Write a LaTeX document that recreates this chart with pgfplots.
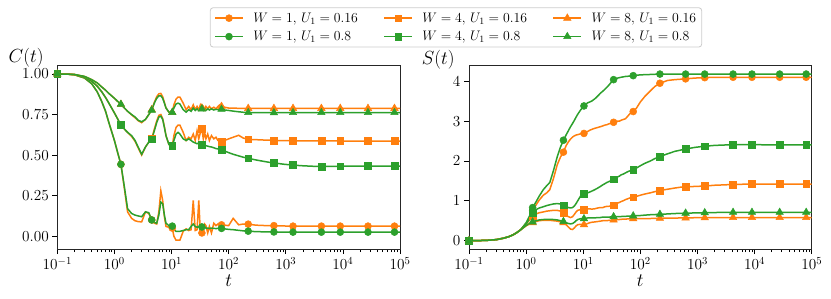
\RequirePackage{fix-cm}
\documentclass[border=0pt]{standalone}
\usepackage{pgfplots}
\usepackage{pgfplotstable}
\pgfplotsset{compat=1.18}
\definecolor{tor}{HTML}{FF7F0E}
\definecolor{tgr}{HTML}{2CA02C}

\pgfplotstableread{
t c1o c1g c4o c4g c8o c8g
0.1 1.0 1.0 1.0 1.0 1.0 1.0
0.15 0.999 0.999 0.999 0.999 0.999 0.999
0.2 0.995 0.995 0.996 0.996 0.997 0.997
0.3 0.975 0.975 0.98 0.98 0.985 0.985
0.4 0.94 0.94 0.955 0.955 0.965 0.965
0.5 0.89 0.89 0.925 0.925 0.945 0.945
0.6 0.83 0.83 0.89 0.89 0.92 0.92
0.7 0.77 0.77 0.855 0.855 0.90 0.90
0.8 0.70 0.70 0.82 0.82 0.88 0.88
1.0 0.59 0.59 0.76 0.76 0.85 0.85
1.15 0.51 0.51 0.72 0.72 0.83 0.83
1.3 0.443 0.443 0.685 0.685 0.813 0.813
1.5 0.29 0.30 0.66 0.66 0.79 0.79
1.7 0.15 0.17 0.64 0.64 0.77 0.77
2.0 0.11 0.14 0.615 0.62 0.748 0.75
2.3 0.095 0.13 0.585 0.59 0.73 0.735
2.6 0.09 0.125 0.545 0.55 0.712 0.715
3.0 0.088 0.12 0.50 0.505 0.70 0.705
3.5 0.15 0.15 0.55 0.55 0.72 0.72
4.0 0.14 0.145 0.58 0.58 0.75 0.75
4.5 0.10 0.10 0.60 0.597 0.78 0.777
5.0 0.08 0.085 0.66 0.65 0.825 0.82
5.5 0.075 0.08 0.71 0.70 0.86 0.85
6.0 0.15 0.13 0.745 0.735 0.878 0.865
6.5 0.28 0.21 0.75 0.74 0.88 0.865
7.0 0.22 0.20 0.725 0.72 0.86 0.85
7.5 0.12 0.13 0.675 0.67 0.825 0.82
8.0 0.06 0.08 0.62 0.62 0.79 0.79
9.0 0.055 0.065 0.565 0.565 0.765 0.765
10.3 0.05 0.062 0.556 0.556 0.763 0.763
11 0.0 0.04 0.62 0.59 0.81 0.79
12 -0.025 0.03 0.67 0.63 0.845 0.815
13 -0.025 0.03 0.685 0.64 0.858 0.82
14 -0.025 0.03 0.685 0.63 0.858 0.815
16 0.03 0.035 0.64 0.60 0.82 0.78
18 0.045 0.04 0.59 0.59 0.78 0.765
20 0.035 0.04 0.61 0.60 0.80 0.78
22 0.04 0.06 0.60 0.59 0.78 0.77
24 0.22 0.075 0.63 0.58 0.81 0.79
26 0.035 0.06 0.59 0.575 0.78 0.775
28 0.04 0.055 0.65 0.57 0.80 0.785
30 0.22 0.06 0.60 0.575 0.78 0.775
32 0.02 0.06 0.64 0.57 0.81 0.785
34 0.02 0.057 0.66 0.566 0.79 0.785
36 0.05 0.05 0.60 0.565 0.80 0.775
38 0.075 0.055 0.64 0.562 0.78 0.785
40 0.065 0.05 0.60 0.558 0.80 0.775
43 0.02 0.05 0.63 0.555 0.785 0.785
46 0.06 0.048 0.59 0.552 0.80 0.778
50 0.02 0.05 0.62 0.55 0.785 0.785
55 0.08 0.048 0.60 0.545 0.795 0.778
60 0.065 0.047 0.61 0.54 0.785 0.782
65 0.075 0.048 0.59 0.538 0.80 0.78
70 0.07 0.048 0.585 0.536 0.81 0.782
75 0.07 0.048 0.582 0.535 0.80 0.782
85 0.068 0.045 0.59 0.525 0.795 0.778
100 0.065 0.042 0.60 0.515 0.79 0.775
120 0.11 0.04 0.61 0.505 0.79 0.771
150 0.07 0.036 0.622 0.495 0.788 0.767
180 0.075 0.033 0.605 0.487 0.788 0.764
220 0.074 0.031 0.597 0.48 0.788 0.762
300 0.068 0.028 0.595 0.47 0.788 0.761
400 0.066 0.027 0.593 0.462 0.788 0.761
500 0.065 0.026 0.592 0.456 0.788 0.761
620 0.065 0.026 0.59 0.452 0.788 0.761
900 0.063 0.025 0.589 0.444 0.788 0.761
1340 0.062 0.025 0.588 0.438 0.788 0.762
2000 0.062 0.025 0.588 0.434 0.788 0.762
3000 0.062 0.025 0.587 0.431 0.788 0.762
4200 0.062 0.025 0.587 0.43 0.788 0.762
9000 0.062 0.025 0.587 0.431 0.788 0.762
15000 0.062 0.025 0.586 0.432 0.788 0.762
27500 0.062 0.025 0.586 0.432 0.788 0.762
50000 0.062 0.025 0.586 0.432 0.788 0.762
80000 0.062 0.025 0.586 0.432 0.788 0.762
100000 0.062 0.025 0.586 0.432 0.788 0.762
}\Ctab

\pgfplotstableread{
t s1o s1g s4o s4g s8o s8g
0.1 0 0 0 0 0 0
0.15 0.002 0.002 0.002 0.002 0.002 0.002
0.2 0.006 0.006 0.006 0.006 0.006 0.006
0.3 0.025 0.025 0.025 0.025 0.025 0.025
0.4 0.06 0.06 0.06 0.06 0.06 0.06
0.5 0.10 0.10 0.10 0.10 0.10 0.10
0.6 0.15 0.15 0.15 0.15 0.15 0.15
0.7 0.21 0.21 0.21 0.21 0.21 0.21
0.8 0.27 0.27 0.27 0.27 0.27 0.27
1.0 0.43 0.45 0.41 0.42 0.37 0.38
1.15 0.58 0.62 0.52 0.55 0.42 0.43
1.3 0.76 0.83 0.62 0.70 0.45 0.47
1.5 0.90 0.98 0.67 0.78 0.48 0.50
1.7 1.02 1.12 0.70 0.82 0.50 0.52
2.0 1.14 1.28 0.72 0.85 0.51 0.53
2.3 1.20 1.38 0.74 0.88 0.51 0.535
2.6 1.28 1.46 0.75 0.90 0.51 0.535
3.0 1.55 1.75 0.76 0.92 0.50 0.53
3.5 1.90 2.10 0.76 0.93 0.49 0.52
4.0 2.10 2.35 0.74 0.92 0.47 0.50
4.5 2.22 2.52 0.70 0.89 0.45 0.48
5.0 2.38 2.65 0.64 0.86 0.40 0.45
5.5 2.48 2.76 0.60 0.83 0.34 0.43
6.0 2.55 2.86 0.58 0.82 0.29 0.42
6.5 2.60 2.94 0.60 0.83 0.28 0.43
7.0 2.63 3.02 0.66 0.87 0.32 0.46
7.5 2.65 3.10 0.72 0.93 0.37 0.50
8.0 2.66 3.17 0.76 1.00 0.40 0.53
9.0 2.68 3.28 0.78 1.12 0.41 0.55
10.3 2.69 3.38 0.78 1.18 0.40 0.55
11 2.71 3.42 0.79 1.19 0.41 0.56
12 2.74 3.46 0.80 1.20 0.43 0.57
13 2.77 3.48 0.80 1.22 0.45 0.57
14 2.79 3.50 0.79 1.24 0.46 0.57
16 2.82 3.56 0.80 1.28 0.47 0.57
18 2.84 3.63 0.82 1.32 0.48 0.58
20 2.86 3.70 0.83 1.36 0.49 0.58
22 2.88 3.75 0.83 1.40 0.50 0.59
24 2.90 3.80 0.85 1.43 0.50 0.59
26 2.91 3.85 0.86 1.46 0.50 0.59
28 2.93 3.90 0.86 1.48 0.51 0.59
30 2.94 3.95 0.87 1.50 0.51 0.595
32 2.96 4.00 0.88 1.52 0.51 0.595
34 2.97 4.04 0.89 1.54 0.52 0.60
36 2.98 4.06 0.90 1.56 0.52 0.60
38 2.99 4.07 0.92 1.58 0.52 0.60
40 3.00 4.08 0.94 1.60 0.53 0.60
43 3.00 4.09 0.96 1.62 0.53 0.605
46 3.02 4.10 0.98 1.65 0.535 0.605
50 3.04 4.11 1.00 1.67 0.54 0.61
55 3.06 4.12 1.03 1.70 0.54 0.61
60 3.12 4.125 1.05 1.73 0.545 0.615
65 3.18 4.13 1.07 1.75 0.545 0.615
70 3.22 4.135 1.08 1.76 0.55 0.62
75 3.24 4.14 1.09 1.77 0.55 0.62
85 3.32 4.15 1.11 1.82 0.55 0.625
100 3.48 4.16 1.14 1.88 0.55 0.63
120 3.62 4.165 1.17 1.94 0.555 0.64
150 3.76 4.17 1.20 2.00 0.555 0.65
180 3.87 4.175 1.23 2.06 0.56 0.655
220 3.95 4.18 1.26 2.11 0.56 0.66
300 4.02 4.18 1.29 2.18 0.565 0.67
400 4.04 4.18 1.32 2.24 0.565 0.68
500 4.05 4.18 1.34 2.27 0.57 0.685
620 4.06 4.18 1.35 2.30 0.57 0.69
900 4.08 4.18 1.36 2.34 0.575 0.695
1340 4.09 4.18 1.37 2.37 0.575 0.70
2000 4.10 4.18 1.39 2.39 0.58 0.705
3000 4.10 4.18 1.40 2.40 0.58 0.71
4200 4.10 4.18 1.41 2.41 0.58 0.71
9000 4.10 4.18 1.42 2.41 0.58 0.71
15000 4.10 4.18 1.42 2.405 0.58 0.71
27500 4.10 4.18 1.42 2.40 0.58 0.71
50000 4.10 4.18 1.42 2.40 0.58 0.71
80000 4.10 4.18 1.42 2.40 0.58 0.71
100000 4.10 4.18 1.42 2.40 0.58 0.71
}\Stab

\begin{document}
\begin{tikzpicture}
\useasboundingbox (0pt,0pt) rectangle (831pt,298pt);
\begin{axis}[xmode=log, scale only axis, width=342.7pt, height=183.3pt,
  at={(57.3pt,49pt)}, anchor=south west,
  xmin=0.1, xmax=1e5,
  xtick={0.1,1,10,100,1000,10000,100000},
  minor xtick={0.2,0.3,0.4,0.5,0.6,0.7,0.8,0.9,2,3,4,5,6,7,8,9,20,30,40,50,60,70,80,90,200,300,400,500,600,700,800,900,2000,3000,4000,5000,6000,7000,8000,9000,20000,30000,40000,50000,60000,70000,80000,90000},
  axis line style={line width=0.8pt, black!85},
  tick align=outside, xtick pos=bottom, ytick pos=left,
  major tick length=5pt, minor tick length=3pt,
  tick style={line width=0.7pt, black},
  tick label style={font=\fontsize{15.3}{18}\selectfont},
  label style={font=\fontsize{19}{22}\selectfont},
  xlabel={$t$},
  xlabel style={at={(axis description cs:0.5,-0.175)}, anchor=center},
  ymin=-0.079, ymax=1.051, ytick={0,0.25,0.5,0.75,1},
  yticklabel style={/pgf/number format/.cd, fixed, fixed zerofill, precision=2},
  ylabel={$C(t)$},
  ylabel style={at={(axis description cs:-0.091,1.042)}, anchor=center, rotate=-90},
  legend columns=3, legend cell align=left,
  legend image code/.code={\draw[mark repeat=2,mark phase=2] plot coordinates {(0pt,0pt) (14pt,0pt) (28pt,0pt)};},
  legend style={at={(1.1634,1.3186)}, anchor=north, draw=black!20, line width=0.8pt,
    rounded corners=3pt, font=\fontsize{13.8}{16}\selectfont,
    inner xsep=4pt, inner ysep=3.5pt,
    nodes={inner sep=1.5pt}, /tikz/row sep=4.5pt,
    /tikz/every odd column/.append style={column sep=8pt},
    /tikz/every even column/.append style={column sep=24pt}},
]
\addplot[color=tor, line width=1.5pt, mark=*, mark size=3.5pt, mark options={solid, fill=tor, line width=0.5pt}, mark indices={1,12,21,30,44,55,61,65,67,70,71,73,75}, forget plot] table[x=t, y=c1o] {\Ctab};
\addplot[color=tgr, line width=1.5pt, mark=*, mark size=3.5pt, mark options={solid, fill=tgr, line width=0.5pt}, mark indices={1,12,21,30,44,55,61,65,67,70,71,73,75}, forget plot] table[x=t, y=c1g] {\Ctab};
\addplot[color=tor, line width=1.5pt, mark=square*, mark size=3.4pt, mark options={solid, fill=tor, line width=0.5pt}, mark indices={1,12,21,30,44,55,61,65,67,70,71,73,75}, forget plot] table[x=t, y=c4o] {\Ctab};
\addplot[color=tgr, line width=1.5pt, mark=square*, mark size=3.4pt, mark options={solid, fill=tgr, line width=0.5pt}, mark indices={1,12,21,30,44,55,61,65,67,70,71,73,75}, forget plot] table[x=t, y=c4g] {\Ctab};
\addplot[color=tor, line width=1.5pt, mark=triangle*, mark size=4.3pt, mark options={solid, fill=tor, line width=0.5pt}, mark indices={1,12,21,30,44,55,61,65,67,70,71,73,75}, forget plot] table[x=t, y=c8o] {\Ctab};
\addplot[color=tgr, line width=1.5pt, mark=triangle*, mark size=4.3pt, mark options={solid, fill=tgr, line width=0.5pt}, mark indices={1,12,21,30,44,55,61,65,67,70,71,73,75}, forget plot] table[x=t, y=c8g] {\Ctab};
\addlegendimage{color=tor, line width=1.5pt, mark=*, mark size=3.5pt, mark options={solid, fill=tor, line width=0.5pt}}
\addlegendentry{$W=1$, $U_1=0.16$}
\addlegendimage{color=tor, line width=1.5pt, mark=square*, mark size=3.4pt, mark options={solid, fill=tor, line width=0.5pt}}
\addlegendentry{$W=4$, $U_1=0.16$}
\addlegendimage{color=tor, line width=1.5pt, mark=triangle*, mark size=4.3pt, mark options={solid, fill=tor, line width=0.5pt}}
\addlegendentry{$W=8$, $U_1=0.16$}
\addlegendimage{color=tgr, line width=1.5pt, mark=*, mark size=3.5pt, mark options={solid, fill=tgr, line width=0.5pt}}
\addlegendentry{$W=1$, $U_1=0.8$}
\addlegendimage{color=tgr, line width=1.5pt, mark=square*, mark size=3.4pt, mark options={solid, fill=tgr, line width=0.5pt}}
\addlegendentry{$W=4$, $U_1=0.8$}
\addlegendimage{color=tgr, line width=1.5pt, mark=triangle*, mark size=4.3pt, mark options={solid, fill=tgr, line width=0.5pt}}
\addlegendentry{$W=8$, $U_1=0.8$}
\end{axis}
\begin{axis}[xmode=log, scale only axis, width=342.7pt, height=183.3pt,
  at={(469pt,49pt)}, anchor=south west,
  xmin=0.1, xmax=1e5,
  xtick={0.1,1,10,100,1000,10000,100000},
  minor xtick={0.2,0.3,0.4,0.5,0.6,0.7,0.8,0.9,2,3,4,5,6,7,8,9,20,30,40,50,60,70,80,90,200,300,400,500,600,700,800,900,2000,3000,4000,5000,6000,7000,8000,9000,20000,30000,40000,50000,60000,70000,80000,90000},
  axis line style={line width=0.8pt, black!85},
  tick align=outside, xtick pos=bottom, ytick pos=left,
  major tick length=5pt, minor tick length=3pt,
  tick style={line width=0.7pt, black},
  tick label style={font=\fontsize{15.3}{18}\selectfont},
  label style={font=\fontsize{19}{22}\selectfont},
  xlabel={$t$},
  xlabel style={at={(axis description cs:0.5,-0.175)}, anchor=center},
  ymin=-0.21, ymax=4.39, ytick={0,1,2,3,4},
  ylabel={$S(t)$},
  ylabel style={at={(axis description cs:-0.09,1.031)}, anchor=center, rotate=-90},
]
\addplot[color=tor, line width=1.5pt, mark=*, mark size=3.5pt, mark options={solid, fill=tor, line width=0.5pt}, mark indices={1,12,21,30,44,55,61,65,67,70,71,73,75}] table[x=t, y=s1o] {\Stab};
\addplot[color=tgr, line width=1.5pt, mark=*, mark size=3.5pt, mark options={solid, fill=tgr, line width=0.5pt}, mark indices={1,12,21,30,44,55,61,65,67,70,71,73,75}] table[x=t, y=s1g] {\Stab};
\addplot[color=tor, line width=1.5pt, mark=square*, mark size=3.4pt, mark options={solid, fill=tor, line width=0.5pt}, mark indices={1,12,21,30,44,55,61,65,67,70,71,73,75}] table[x=t, y=s4o] {\Stab};
\addplot[color=tgr, line width=1.5pt, mark=square*, mark size=3.4pt, mark options={solid, fill=tgr, line width=0.5pt}, mark indices={1,12,21,30,44,55,61,65,67,70,71,73,75}] table[x=t, y=s4g] {\Stab};
\addplot[color=tor, line width=1.5pt, mark=triangle*, mark size=4.3pt, mark options={solid, fill=tor, line width=0.5pt}, mark indices={1,12,21,30,44,55,61,65,67,70,71,73,75}] table[x=t, y=s8o] {\Stab};
\addplot[color=tgr, line width=1.5pt, mark=triangle*, mark size=4.3pt, mark options={solid, fill=tgr, line width=0.5pt}, mark indices={1,12,21,30,44,55,61,65,67,70,71,73,75}] table[x=t, y=s8g] {\Stab};
\end{axis}
\end{tikzpicture}
\end{document}
